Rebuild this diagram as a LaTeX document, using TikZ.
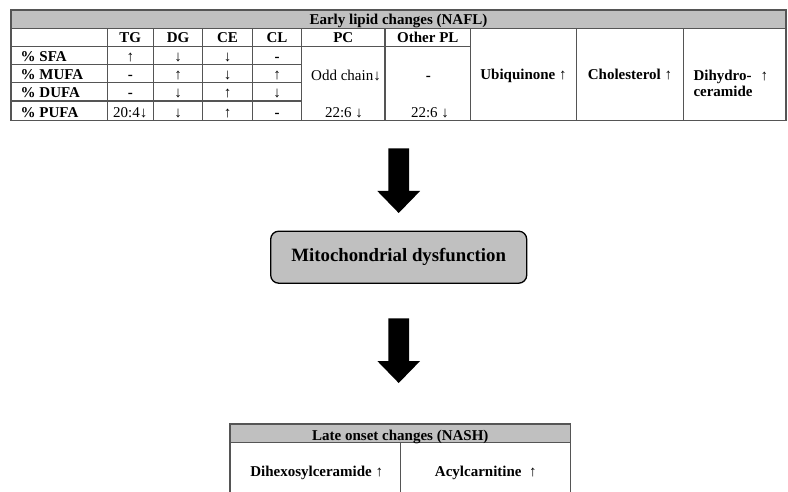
\documentclass[tikz,border=0pt]{standalone}
\usepackage{fontspec}
\setmainfont{Liberation Serif}
\definecolor{gridline}{RGB}{85,85,85}
\definecolor{headfill}{RGB}{192,192,192}
\begin{document}
\begin{tikzpicture}[x=1pt,y=-1pt,
  txt/.style={inner sep=0pt,anchor=base,font=\fontsize{15}{17}\selectfont},
  btxt/.style={txt,font=\fontsize{15}{17}\selectfont\bfseries},
  ltxt/.style={btxt,anchor=base west},
  grid/.style={draw=gridline,line width=1.4pt},
  blockarrow/.style={fill=black,draw=none}]
\useasboundingbox (0,0) rectangle (788,492);

% ---------------- top table ----------------
\fill[headfill] (11,10) rectangle (786,28.3);
\draw[grid] (11,10) rectangle (786,120.7);
\draw[grid] (11,28.3) -- (786,28.3);
\draw[grid] (11,46.7) -- (470.7,46.7);
\foreach \yy in {64.3,82.3,101} \draw[grid] (11,\yy) -- (301.7,\yy);
\foreach \xx in {107.3,153.3,202.7,252.3,301.7,385,470.7,576.7,683.3}
  \draw[grid] (\xx,28.3) -- (\xx,120.7);

\node[btxt] (title1) at (398.5,24.5) {Early lipid changes (NAFL)};

\node[btxt] (hTG) at (130.3,42.8) {TG};
\node[btxt] (hDG) at (178,42.8) {DG};
\node[btxt] (hCE) at (227.5,42.8) {CE};
\node[btxt] (hCL) at (277,42.8) {CL};
\node[btxt] (hPC) at (343.3,42.8) {PC};
\node[btxt] (hPL) at (427.8,42.8) {Other PL};

\node[ltxt] (rSFA) at (20.5,61.3) {\% SFA};
\node[ltxt] (rMUFA) at (20.5,79.3) {\% MUFA};
\node[ltxt] (rDUFA) at (20.5,98) {\% DUFA};
\node[ltxt] (rPUFA) at (20.5,117.3) {\% PUFA};

% TG
\node[txt] (c11) at (130.3,61.3) {↑};
\node[btxt] (c21) at (130.3,79.3) {-};
\node[btxt] (c31) at (130.3,98) {-};
\node[txt] (c41) at (130.3,117.3) {20:4↓};
% DG
\node[txt] (c12) at (178,61.3) {↓};
\node[txt] (c22) at (178,79.3) {↑};
\node[txt] (c32) at (178,98) {↓};
\node[txt] (c42) at (178,117.3) {↓};
% CE
\node[txt] (c13) at (227.5,61.3) {↓};
\node[txt] (c23) at (227.5,79.3) {↓};
\node[txt] (c33) at (227.5,98) {↑};
\node[txt] (c43) at (227.5,117.3) {↑};
% CL
\node[btxt] (c14) at (277,61.3) {-};
\node[txt] (c24) at (277,79.3) {↑};
\node[txt] (c34) at (277,98) {↓};
\node[btxt] (c44) at (277,117.3) {-};
% PC
\node[txt] (pc1) at (346,80.5) {Odd chain↓};
\node[txt] (pc2) at (344,117.3) {22:6 ↓};
% Other PL
\node[btxt] (pl1) at (428.3,80.5) {-};
\node[txt] (pl2) at (430,117.3) {22:6 ↓};

\node[btxt] (ubi) at (523.5,79.5) {Ubiquinone ↑};
\node[btxt] (chol) at (630,79.5) {Cholesterol ↑};
\node[ltxt] (dhc1) at (693.3,80.5) {Dihydro-\hspace{0.6em}↑};
\node[ltxt] (dhc2) at (693.3,96.5) {ceramide};

% ---------------- block arrows ----------------
\coordinate (arrA) at (398.7,148.3);
\coordinate (arrB) at (398.7,318.3);
\foreach \c in {arrA,arrB}
  \fill[blockarrow] (\c) ++(-10.4,0) -- ++(20.8,0) -- ++(0,42.7) -- ++(11,0)
     -- ++(-21.4,22) -- ++(-21.4,-22) -- ++(11,0) -- cycle;

% ---------------- mitochondrial box ----------------
\node[draw=black,line width=1.3pt,fill=headfill,rounded corners=8pt,
      minimum width=256pt,minimum height=52pt,inner sep=0pt,
      font=\fontsize{18.8}{20}\selectfont\bfseries] (mito) at (398.7,257.2)
      {Mitochondrial dysfunction};

% ---------------- bottom table ----------------
\fill[headfill] (230,424) rectangle (570.7,442.3);
\draw[grid] (230,492) -- (230,424) -- (570.7,424) -- (570.7,492);
\draw[grid] (230,442.3) -- (570.7,442.3);
\draw[grid] (400.3,442.3) -- (400.3,492);
\node[btxt] (title2) at (400.3,440) {Late onset changes (NASH)};
\node[btxt] (dhx) at (316.7,476) {Dihexosylceramide ↑};
\node[btxt] (acyl) at (485.8,476) {Acylcarnitine\hspace{0.5em}↑};
\end{tikzpicture}
\end{document}
